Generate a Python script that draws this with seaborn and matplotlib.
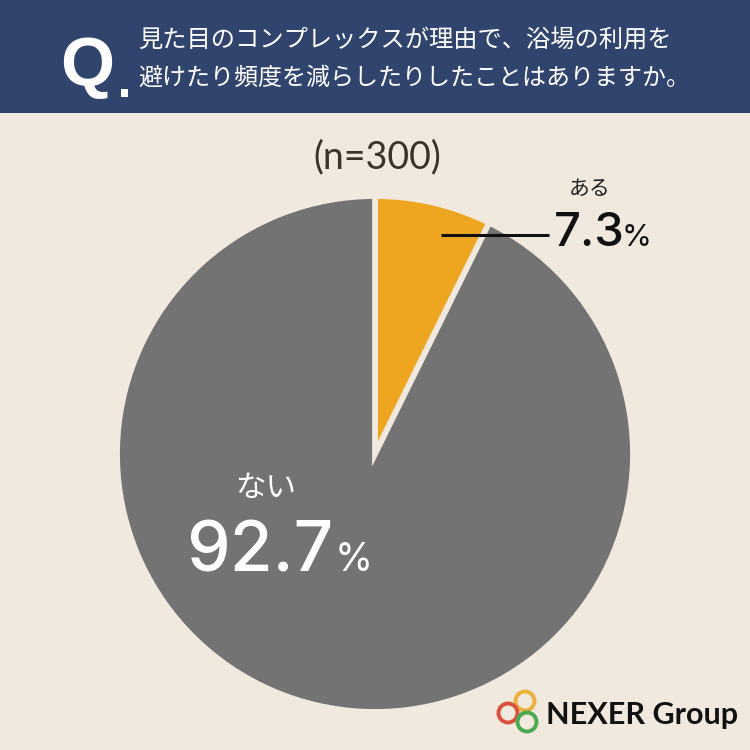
import matplotlib.pyplot as plt
from matplotlib.patches import Circle, Rectangle
import seaborn as sns

answers = ['ある', 'ない']
shares = [7.3, 92.7]
share_labels = ['7.3', '92.7']
question_lines = ['見た目のコンプレックスが理由で、浴場の利用を',
                  '避けたり頻度を減らしたりしたことはありますか。']
sample_label = '(n=300)'
logo_text = 'NEXER Group'

bg_color = '#f1e9de'
header_color = '#30446d'
pie_colors = sns.color_palette(['#eea620', '#737373'])
jp_font = ['Noto Sans CJK JP', 'DejaVu Sans']

sns.set_theme(style='white')
plt.rcParams['font.family'] = jp_font

fig = plt.figure(figsize=(7.5, 7.5), dpi=100, facecolor=bg_color)

# pie axes, 750px canvas: centre at (375, 454), radius about 258
pie_ax = fig.add_axes([(375 - 258) / 750, 1 - (454 + 258) / 750, 516 / 750, 516 / 750])
pie_ax.pie(shares, colors=pie_colors, startangle=90, counterclock=False, radius=1,
           wedgeprops={'edgecolor': bg_color, 'linewidth': 4.2})
pie_ax.set_xlim(-1, 1)
pie_ax.set_ylim(-1, 1)

# overlay in pixel coords for the header and labels
ax = fig.add_axes([0, 0, 1, 1], facecolor='none')
ax.set_xlim(0, 750)
ax.set_ylim(750, 0)
ax.axis('off')

ax.add_patch(Rectangle((0, 0), 750, 113, color=header_color, lw=0, zorder=1))
ax.text(87, 85, 'Q', color='white', fontsize=50, fontweight='bold', family='Liberation Sans',
        ha='center', va='baseline', zorder=2)
ax.add_patch(Rectangle((121, 89), 7, 8, color='white', lw=0, zorder=2))
ax.text(138, 40, question_lines[0], color='white', fontsize=17.5, va='center', zorder=2)
ax.text(138, 78, question_lines[1], color='white', fontsize=17.3, va='center', zorder=2)

ax.text(377, 157, sample_label, color='#3a342c', fontsize=27, family='Lato',
        ha='center', va='center')

# small slice label with leader line
ax.plot([441, 549], [235, 235], color='#111111', lw=2.2, solid_capstyle='butt', zorder=3)
ax.text(590, 189, answers[0], color='#222222', fontsize=15, ha='center', va='center')
ax.text(554, 246, share_labels[0], color='#111111', fontsize=34, fontweight='medium',
        family='Inter', ha='left', va='baseline')
ax.text(622, 246, '%', color='#111111', fontsize=22, family='Inter', ha='left', va='baseline')

# big slice label
ax.text(266, 488, answers[1], color='white', fontsize=22, ha='center', va='center')
ax.text(186, 571, share_labels[1], color='white', fontsize=50, fontweight='medium',
        family='Inter', ha='left', va='baseline')
ax.text(335, 571, '%', color='white', fontsize=28, family='Inter', ha='left', va='baseline')

# logo
for (cx, cy), ring_color in zip([(525, 701), (508, 713), (527, 722)],
                                ['#e9b23a', '#d9503f', '#4aa84f']):
    ax.add_patch(Circle((cx, cy), 9.5, fill=False, ec=ring_color, lw=2.8))
ax.text(546, 715, logo_text, color='#111111', fontsize=22, fontweight='bold', family='Lato',
        ha='left', va='center')

fig.savefig('out.png', dpi=100, facecolor=bg_color)
